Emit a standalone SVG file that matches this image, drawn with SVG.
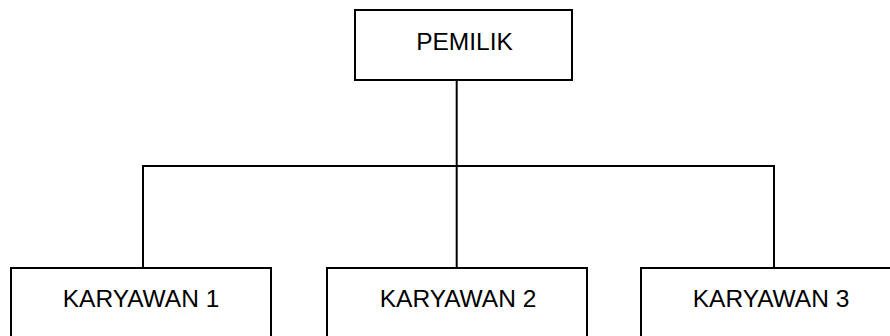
<svg xmlns="http://www.w3.org/2000/svg" width="890" height="336" viewBox="0 0 890 336">
<style>
.box{fill:#fff;stroke:#000;stroke-width:2}
.lbl{font-family:"Liberation Sans",Arial,sans-serif;font-size:24.5px;fill:#000;text-anchor:middle}
.ln{fill:none;stroke:#000;stroke-width:2}
</style>
<rect width="890" height="336" fill="#fff"/>
<g id="connectors">
<path class="ln" d="M456.7 80 V166"/>
<path class="ln" d="M143 268 V166 H774 V268"/>
<path class="ln" d="M456.7 166 V268"/>
</g>
<g id="pemilik">
<rect class="box" x="355" y="10" width="217" height="70"/>
<text class="lbl" x="464.5" y="50">PEMILIK</text>
</g>
<g id="karyawan1">
<rect class="box" x="11" y="268" width="260" height="80"/>
<text class="lbl" x="141" y="306.5">KARYAWAN 1</text>
</g>
<g id="karyawan2">
<rect class="box" x="327" y="268" width="260" height="80"/>
<text class="lbl" x="458" y="306.5">KARYAWAN 2</text>
</g>
<g id="karyawan3">
<rect class="box" x="641" y="268" width="265" height="80"/>
<text class="lbl" x="771" y="306.5">KARYAWAN 3</text>
</g>
</svg>
